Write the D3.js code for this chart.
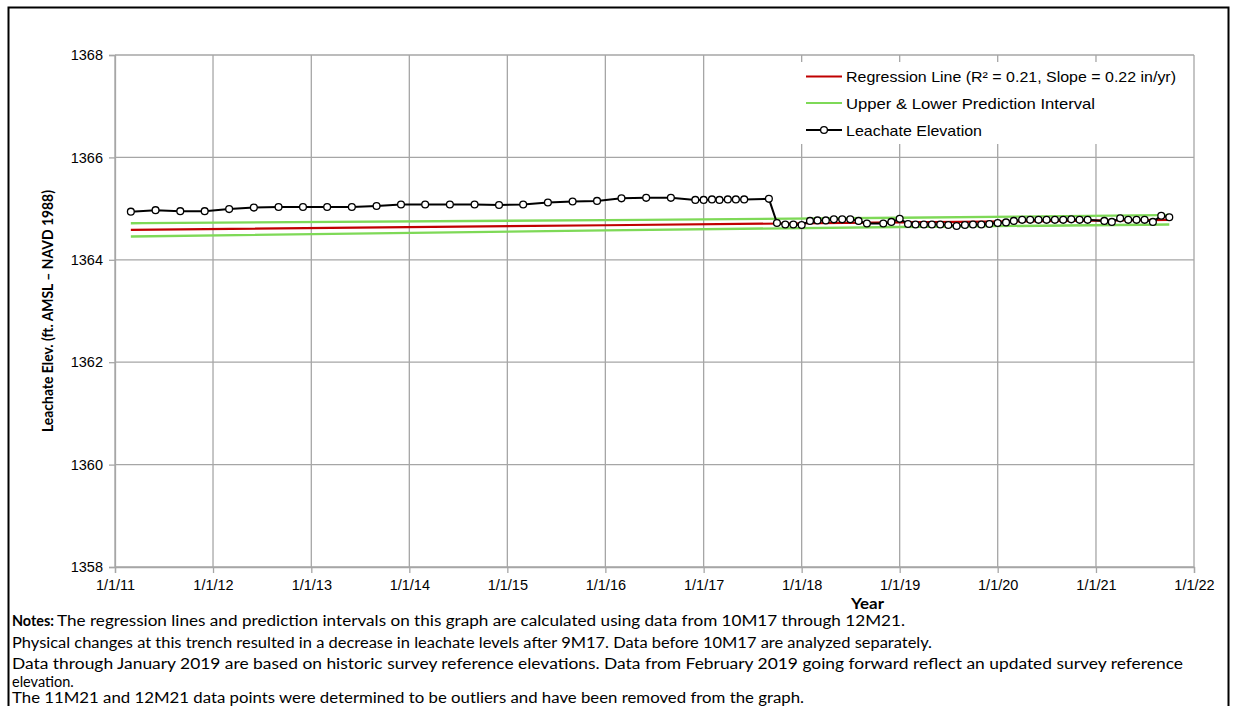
<!DOCTYPE html>
<html>
<head>
<meta charset="utf-8">
<script src="https://cdn.jsdelivr.net/npm/d3@7"></script>
<style>
  html, body { margin: 0; padding: 0; background: #fff; }
  svg { display: block; }
</style>
</head>
<body>
<svg id="chart" width="1237" height="706"></svg>
<script>
// Leachate elevation measurements (ft. AMSL - NAVD 1988)
const sampleDates = [
  "2011-03-01","2011-06-01","2011-09-01","2011-12-01",
  "2012-03-01","2012-06-01","2012-09-01","2012-12-01",
  "2013-03-01","2013-06-01","2013-09-01","2013-12-01",
  "2014-03-01","2014-06-01","2014-09-01","2014-12-01",
  "2015-03-01","2015-06-01","2015-09-01","2015-12-01",
  "2016-03-01","2016-06-01","2016-09-01","2016-12-01",
  "2017-01-01","2017-02-01","2017-03-01","2017-04-01","2017-05-01","2017-06-01",
  "2017-09-01","2017-10-01","2017-11-01","2017-12-01",
  "2018-01-01","2018-02-01","2018-03-01","2018-04-01","2018-05-01","2018-06-01",
  "2018-07-01","2018-08-01","2018-09-01","2018-11-01","2018-12-01",
  "2019-01-01","2019-02-01","2019-03-01","2019-04-01","2019-05-01","2019-06-01",
  "2019-07-01","2019-08-01","2019-09-01","2019-10-01","2019-11-01","2019-12-01",
  "2020-01-01","2020-02-01","2020-03-01","2020-04-01","2020-05-01","2020-06-01",
  "2020-07-01","2020-08-01","2020-09-01","2020-10-01","2020-11-01","2020-12-01",
  "2021-02-01","2021-03-01","2021-04-01","2021-05-01","2021-06-01",
  "2021-07-01","2021-08-01","2021-09-01","2021-10-01"
];
const leachateElev = [
  1364.94,1364.97,1364.95,1364.95,
  1364.99,1365.02,1365.03,1365.03,
  1365.03,1365.03,1365.05,1365.08,
  1365.08,1365.08,1365.08,1365.07,
  1365.08,1365.12,1365.14,1365.15,
  1365.20,1365.21,1365.21,1365.17,
  1365.17,1365.18,1365.17,1365.18,1365.18,1365.18,
  1365.19,1364.72,1364.69,1364.69,
  1364.68,1364.76,1364.77,1364.77,1364.79,1364.79,
  1364.79,1364.76,1364.71,1364.71,1364.74,
  1364.80,1364.70,1364.69,1364.69,1364.69,1364.69,
  1364.68,1364.66,1364.68,1364.69,1364.69,1364.70,
  1364.72,1364.73,1364.76,1364.78,1364.78,1364.78,
  1364.78,1364.78,1364.78,1364.79,1364.78,1364.78,
  1364.76,1364.74,1364.81,1364.78,1364.78,
  1364.78,1364.74,1364.86,1364.83
];

// Regression line and prediction interval bounds
const fitDates   = ["2011-03-01","2016-01-01","2019-01-01","2021-10-01"];
const regression = [1364.585, 1364.675, 1364.73, 1364.78];
const upperPI    = [1364.715, 1364.775, 1364.82, 1364.875];
const lowerPI    = [1364.455, 1364.575, 1364.64, 1364.69];

// Axis ticks
const yTicks = [1358, 1360, 1362, 1364, 1366, 1368];
const xTickYears = [2011,2012,2013,2014,2015,2016,2017,2018,2019,2020,2021,2022];

const legendLabels = [
  "Regression Line (R\u00B2 = 0.21, Slope = 0.22 in/yr)",
  "Upper & Lower Prediction Interval",
  "Leachate Elevation"
];
const yTitle = "Leachate Elev. (ft. AMSL \u2013 NAVD 1988)";
const xTitle = "Year";
const notes = [
  "The regression lines and prediction intervals on this graph are calculated using data from 10M17 through 12M21.",
  "Physical changes at this trench resulted in a decrease in leachate levels after 9M17. Data before 10M17 are analyzed separately.",
  "Data through January 2019 are based on historic survey reference elevations. Data from February 2019 going forward reflect an updated survey reference",
  "elevation.",
  "The 11M21 and 12M21 data points were determined to be outliers and have been removed from the graph."
];

const parse = d3.timeParse("%Y-%m-%d");
const svg = d3.select("#chart");

const plot = { left: 115, right: 1194, top: 55, bottom: 567 };
const x = d3.scaleTime()
  .domain([new Date(2011, 0, 1), new Date(2022, 0, 1)])
  .range([plot.left, plot.right]);
const y = d3.scaleLinear()
  .domain([1358, 1368])
  .range([plot.bottom, plot.top]);

const tickFont = "'Liberation Sans', Arial, sans-serif";
const textFont = "Lato, 'Open Sans', sans-serif";

// outer frame
svg.append("rect")
  .attr("x", 8.5).attr("y", 7.5)
  .attr("width", 1220).attr("height", 720)
  .attr("fill", "none").attr("stroke", "#000").attr("stroke-width", 2);

const xTickDates = xTickYears.map(yr => new Date(yr, 0, 1));

// gridlines
const grid = svg.append("g").attr("stroke", "#a6a6a6").attr("stroke-width", 1.3);
grid.selectAll("line.h").data(yTicks).join("line")
  .attr("x1", plot.left).attr("x2", plot.right)
  .attr("y1", d => y(d)).attr("y2", d => y(d));
grid.selectAll("line.v").data(xTickDates).join("line")
  .attr("x1", d => x(d)).attr("x2", d => x(d))
  .attr("y1", plot.top).attr("y2", plot.bottom);

// axes
const xAxis = d3.axisBottom(x).tickValues(xTickDates)
  .tickFormat(d3.timeFormat("1/1/%y")).tickSize(6).tickPadding(5);
const yAxis = d3.axisLeft(y).tickValues(yTicks)
  .tickFormat(d3.format("d")).tickSize(6).tickPadding(6);

const gx = svg.append("g").attr("transform", `translate(0,${plot.bottom})`).call(xAxis);
const gy = svg.append("g").attr("transform", `translate(${plot.left},0)`).call(yAxis);
[gx, gy].forEach(g => {
  g.select(".domain").attr("stroke", "#a6a6a6").attr("stroke-width", 1.3);
  g.selectAll(".tick line").attr("stroke", "#a6a6a6").attr("stroke-width", 1.3);
  g.selectAll(".tick text").attr("fill", "#000")
    .style("font-family", tickFont).style("font-size", "14.5px");
});
gx.selectAll(".tick text").attr("dy", "0.85em");

// prediction interval and regression
const fitPts = fitDates.map(parse);
const fitLine = vals => d3.line()
  .x((d, i) => x(fitPts[i])).y(d => y(d)).curve(d3.curveMonotoneX)(vals);

svg.append("path").attr("d", fitLine(upperPI))
  .attr("fill", "none").attr("stroke", "#7ed957").attr("stroke-width", 2.4);
svg.append("path").attr("d", fitLine(lowerPI))
  .attr("fill", "none").attr("stroke", "#7ed957").attr("stroke-width", 2.4);
svg.append("path").attr("d", fitLine(regression))
  .attr("fill", "none").attr("stroke", "#c00000").attr("stroke-width", 2.2);

// leachate series
const series = sampleDates.map((d, i) => ({ date: parse(d), v: leachateElev[i] }));
svg.append("path")
  .attr("d", d3.line().x(d => x(d.date)).y(d => y(d.v))(series))
  .attr("fill", "none").attr("stroke", "#000").attr("stroke-width", 2);
svg.append("g").selectAll("circle").data(series).join("circle")
  .attr("cx", d => x(d.date)).attr("cy", d => y(d.v)).attr("r", 3.4)
  .attr("fill", "#fff").attr("stroke", "#000").attr("stroke-width", 1.3);

// legend
const lg = svg.append("g");
lg.append("rect").attr("x", 795).attr("y", 62).attr("width", 394).attr("height", 82)
  .attr("fill", "#fff");
const rowsY = [76.5, 103, 130];
const legendWidths = [330, 249, 136];
const legendColors = ["#c00000", "#7ed957", "#000"];
rowsY.forEach((ry, i) => {
  lg.append("line").attr("x1", 806).attr("x2", 842).attr("y1", ry).attr("y2", ry)
    .attr("stroke", legendColors[i]).attr("stroke-width", i === 2 ? 2 : 2.2);
  if (i === 2) {
    lg.append("circle").attr("cx", 824).attr("cy", ry).attr("r", 3.4)
      .attr("fill", "#fff").attr("stroke", "#000").attr("stroke-width", 1.3);
  }
  lg.append("text").attr("x", 846).attr("y", ry + 5.5)
    .attr("textLength", legendWidths[i]).attr("lengthAdjust", "spacingAndGlyphs")
    .style("font-family", tickFont).style("font-size", "15px")
    .text(legendLabels[i]);
});

// axis titles
svg.append("text")
  .attr("transform", "translate(53,311) rotate(-90)")
  .attr("text-anchor", "middle")
  .attr("textLength", 242).attr("lengthAdjust", "spacingAndGlyphs")
  .style("font-family", textFont).style("font-size", "15.5px").style("font-weight", "bold")
  .text(yTitle);
svg.append("text")
  .attr("x", 851).attr("y", 609)
  .attr("textLength", 33).attr("lengthAdjust", "spacingAndGlyphs")
  .style("font-family", textFont).style("font-size", "14.5px").style("font-weight", "bold")
  .text(xTitle);

// notes (the short fourth line keeps its natural width)
const noteBase = [626, 648, 669, 686.5, 702.5];
const noteStart = [57, 12, 12, 12, 12];
const noteWidths = [848, 920, 1171, null, 792];
svg.append("text").attr("x", 12).attr("y", noteBase[0])
  .attr("textLength", 42).attr("lengthAdjust", "spacingAndGlyphs")
  .style("font-family", textFont).style("font-size", "14.5px").style("font-weight", "bold")
  .text("Notes:");
notes.forEach((t, i) => {
  const el = svg.append("text").attr("x", noteStart[i]).attr("y", noteBase[i])
    .style("font-family", textFont).style("font-size", "14.5px")
    .text(t);
  if (noteWidths[i]) {
    el.attr("textLength", noteWidths[i]).attr("lengthAdjust", "spacingAndGlyphs");
  }
});
</script>
</body>
</html>
